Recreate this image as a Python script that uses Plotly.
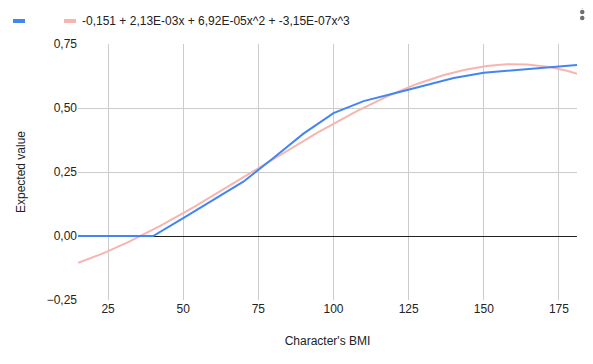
import numpy as np
import plotly.graph_objects as go

# Data
bmi = [15, 40, 50, 60, 70, 80, 90, 100, 110, 120, 130, 140, 150, 160, 170, 181]
expected = [0.0, 0.0, 0.07, 0.142, 0.212, 0.305, 0.40, 0.48, 0.527, 0.557, 0.588, 0.617, 0.638, 0.648, 0.658, 0.668]

# Trendline coefficients (from legend): c0 + c1 x + c2 x^2 + c3 x^3
trend_coefs = [-0.151, 2.13e-03, 6.92e-05, -3.15e-07]
trend_label = "-0,151 + 2,13E-03x + 6,92E-05x^2 + -3,15E-07x^3"

y_ticks = [-0.25, 0.0, 0.25, 0.5, 0.75]
x_ticks = [25, 50, 75, 100, 125, 150, 175]

BLUE = "#4285F4"
PINK = "#F6B5AF"
FONT = "Arial, Liberation Sans, sans-serif"

# page body has an 8px margin; size the figure so it fits the 593x364 window
OFF = 8
W, H = 593 - OFF, 364 - OFF
L, T = 78 - OFF, 44 - OFF
R, B = W - (577 - OFF), H - (300 - OFF)
PW, PH = W - L - R, H - T - B


def px(x):  # page pixel -> paper
    return (x - OFF - L) / PW


def py(y):
    return 1 + (T - (y - OFF)) / PH


tx = np.linspace(min(bmi), max(bmi), 200)
ty = sum(c * tx ** i for i, c in enumerate(trend_coefs))

fig = go.Figure()
fig.add_trace(go.Scatter(x=tx, y=ty, mode="lines", line=dict(color=PINK, width=2),
                         name=trend_label, showlegend=False, hoverinfo="skip"))
fig.add_trace(go.Scatter(x=bmi, y=expected, mode="lines", line=dict(color=BLUE, width=2),
                         name="", showlegend=False))

shapes = [
    dict(type="rect", xref="paper", yref="paper", x0=px(13), x1=px(25),
         y0=py(23), y1=py(19), fillcolor=BLUE, line=dict(width=0), layer="above"),
    dict(type="rect", xref="paper", yref="paper", x0=px(64), x1=px(76),
         y0=py(23), y1=py(19), fillcolor=PINK, line=dict(width=0), layer="above"),
]
for cy in (6, 12, 18):
    shapes.append(dict(type="circle", xref="paper", yref="paper",
                       x0=px(580), x1=px(584.5), y0=py(cy + 2.25), y1=py(cy - 2.25),
                       fillcolor="#6f6f6f", line=dict(width=0), layer="above"))

fig.update_layout(
    width=W, height=H,
    margin=dict(l=L, r=R, t=T, b=B),
    paper_bgcolor="white", plot_bgcolor="white",
    separators=", ",
    font=dict(family=FONT, size=12, color="#222222"),
    xaxis=dict(range=[15, 181], tickvals=x_ticks, showgrid=True, gridcolor="#cccccc",
               gridwidth=1, zeroline=False, showline=False, ticks="", automargin=False,
               tickfont=dict(size=12, color="#222222"),
               title=dict(text="Character's BMI", font=dict(size=12, color="#222222"), standoff=21)),
    yaxis=dict(range=[-0.25, 0.75], tickvals=y_ticks, tickformat=".2f", showgrid=True,
               gridcolor="#cccccc", gridwidth=1, zeroline=True, zerolinecolor="#222222",
               zerolinewidth=1, showline=False, ticks="", automargin=False,
               tickfont=dict(size=12, color="#222222"),
               title=dict(text="Expected value", font=dict(size=12, color="#222222"), standoff=18)),
    shapes=shapes,
    annotations=[
        dict(text=trend_label, xref="paper", yref="paper", x=px(80), y=py(21),
             xanchor="left", yanchor="middle", showarrow=False,
             font=dict(size=12, color="#222222")),
    ],
)

fig.write_html("out.html")
